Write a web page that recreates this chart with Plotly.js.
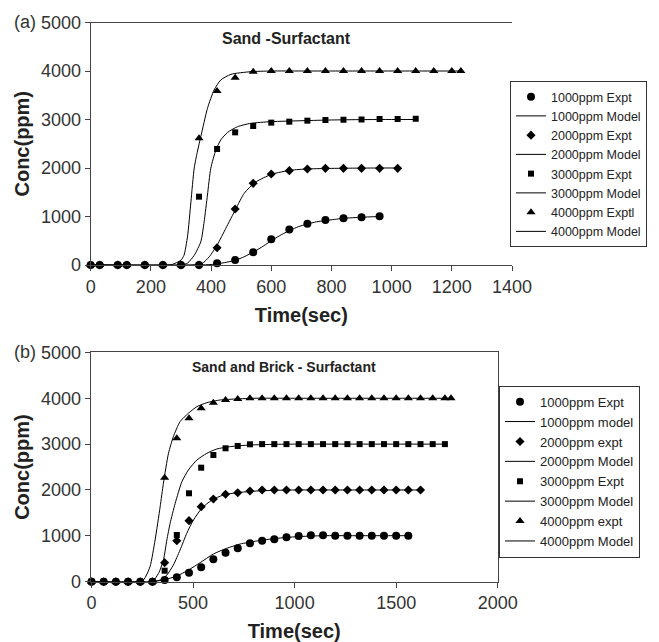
<!DOCTYPE html>
<html>
<head>
<meta charset="utf-8">
<script src="https://cdn.plot.ly/plotly-3.0.1.min.js"></script>
<style>html,body{margin:0;padding:0;background:#fff;}#chart{width:659px;height:642px;}</style>
</head>
<body>
<div id="chart"></div>
<script>
// ---------- (a) Sand - Surfactant ----------
const a1000Time = [0,30,90,120,180,240,300,360,420,480,540,600,660,720,780,840,900,960];
const a1000Expt = [0,0,0,0,0,0,0,0,35,103,262,529,730,850,928,962,983,1003];
const a1000ModelTime = [0,360,400,421,450,482,510,543,575,604,635,665,690,720,750,777,810,840,900,960];
const a1000Model = [0,0,10,25,55,100,170,275,395,515,630,722,790,845,890,914,940,962,985,1000];

const a2000Time = [0,30,90,120,180,240,300,360,420,480,540,600,660,720,780,840,900,960,1020];
const a2000Expt = [0,0,0,0,0,0,0,0,357,1155,1684,1876,1945,1979,1993,1993,1993,1993,1993];
const a2000ModelTime = [0,340,370,394,421,449,482,510,545,575,604,665,720,780,840,900,960,1020];
const a2000Model = [0,0,30,170,420,756,1155,1478,1697,1800,1876,1955,1980,1990,1995,1998,2000,2000];

const a3000Time = [0,30,90,120,180,240,300,360,420,480,540,600,660,720,780,840,900,960,1020,1080];
const a3000Expt = [0,0,0,0,0,0,0,1409,2392,2735,2866,2935,2955,2976,2990,2995,3000,3010,3010,3015];
const a3000ModelTime = [0,300,322,344,366,377,388,399,416,432,455,488,532,598,709,800,900,1000,1080];
const a3000Model = [0,0,40,200,481,893,1443,1994,2371,2577,2735,2852,2921,2955,2976,2990,2998,3000,3000];

const a4000Time = [0,30,90,120,180,240,300,360,420,480,540,600,660,720,780,840,900,960,1020,1080,1140,1200,1230];
const a4000Expt = [0,0,0,0,0,0,0,2612,3588,3862,3986,4000,4000,4000,4000,4000,4000,4000,4000,4000,4000,4000,4000];
const a4000ModelTime = [0,240,270,300,310,322,333,344,355,366,388,410,432,466,532,600,700,900,1100,1230];
const a4000Model = [0,0,10,100,200,600,1300,2000,2350,2650,3230,3608,3814,3931,3986,4000,4000,4000,4000,4000];

// ---------- (b) Sand and Brick - Surfactant ----------
const b1000Time = [0,60,120,180,240,300,360,420,480,540,600,660,720,780,840,900,960,1020,1080,1140,1200,1260,1320,1380,1440,1500,1560];
const b1000Expt = [0,0,0,0,0,0,37,95,196,314,488,633,728,837,894,924,968,997,1012,1015,1003,1003,1003,1003,1003,1003,1003];
const b1000ModelTime = [0,288,354,420,477,535,600,666,732,814,913,1012,1140,1300,1560];
const b1000Model = [0,0,37,124,254,415,604,728,822,888,946,982,1003,1003,1003];

const b2000Time = [0,60,120,180,240,300,360,420,480,540,600,660,720,780,840,900,960,1020,1080,1140,1200,1260,1320,1380,1440,1500,1560,1620];
const b2000Expt = [0,0,0,0,0,0,415,894,1331,1636,1804,1906,1941,1978,2000,2000,2000,2000,2000,2000,2000,2000,2000,2000,2000,2000,2000,2000];
const b2000ModelTime = [0,300,338,371,403,436,469,502,543,593,650,716,814,900,1000,1300,1620];
const b2000Model = [0,0,37,146,364,691,1055,1346,1600,1782,1891,1941,1978,1992,2000,2000,2000];

const b3000Time = [0,60,120,180,240,300,360,420,480,540,600,660,720,780,840,900,960,1020,1080,1140,1200,1260,1320,1380,1440,1500,1560,1620,1680,1740];
const b3000Expt = [0,0,0,0,0,0,240,1019,1928,2486,2763,2909,2960,2996,3000,3000,3000,3000,3000,3000,3000,3000,3000,3000,3000,3000,3000,3000,3000,3000];
const b3000ModelTime = [0,297,330,354,371,387,412,445,477,519,568,617,683,781,900,1000,1400,1740];
const b3000Model = [0,0,182,473,909,1273,1709,2181,2436,2654,2800,2894,2945,2981,2995,3000,3000,3000];

const b4000Time = [0,60,120,180,240,300,360,420,480,540,600,660,720,780,840,900,960,1020,1080,1140,1200,1260,1320,1380,1440,1500,1560,1620,1680,1740,1770];
const b4000Expt = [0,0,0,0,0,0,2268,3127,3564,3782,3904,3963,3985,4000,4000,4000,4000,4000,4000,4000,4000,4000,4000,4000,4000,4000,4000,4000,4000,4000,4000];
const b4000ModelTime = [0,200,255,288,313,338,354,379,403,436,477,519,568,634,716,800,1000,1400,1770];
const b4000Model = [0,0,37,327,909,1636,2146,2800,3163,3490,3673,3817,3904,3963,3985,4000,4000,4000,4000];

const aLabels = ['1000ppm Expt','1000ppm Model','2000ppm Expt','2000ppm Model','3000ppm Expt','3000ppm Model','4000ppm Exptl','4000ppm Model'];
const bLabels = ['1000ppm Expt','1000ppm model','2000ppm expt','2000ppm Model','3000ppm Expt','3000ppm Model','4000ppm expt','4000ppm Model'];

const W = 659, H = 642;
const px = v => v / W;
const py = v => 1 - v / H;

const symbols = ['circle','diamond','square','triangle-up'];
const sizes = [8,7,6,8];

function expt(x, y, name, i, xa, ya, lg) {
  return {x:x, y:y, name:name, type:'scatter', mode:'markers', xaxis:xa, yaxis:ya, legend:lg,
          cliponaxis:false, marker:{symbol:symbols[i], size:sizes[i], color:'#000'}};
}
function model(x, y, name, xa, ya, lg) {
  return {x:x, y:y, name:name, type:'scatter', mode:'lines', xaxis:xa, yaxis:ya, legend:lg,
          cliponaxis:false, line:{color:'#000', width:1, shape:'spline', smoothing:0.6}};
}

const data = [
  expt(a1000Time, a1000Expt, aLabels[0], 0, 'x', 'y', 'legend'),
  model(a1000ModelTime, a1000Model, aLabels[1], 'x', 'y', 'legend'),
  expt(a2000Time, a2000Expt, aLabels[2], 1, 'x', 'y', 'legend'),
  model(a2000ModelTime, a2000Model, aLabels[3], 'x', 'y', 'legend'),
  expt(a3000Time, a3000Expt, aLabels[4], 2, 'x', 'y', 'legend'),
  model(a3000ModelTime, a3000Model, aLabels[5], 'x', 'y', 'legend'),
  expt(a4000Time, a4000Expt, aLabels[6], 3, 'x', 'y', 'legend'),
  model(a4000ModelTime, a4000Model, aLabels[7], 'x', 'y', 'legend'),
  expt(b1000Time, b1000Expt, bLabels[0], 0, 'x2', 'y2', 'legend2'),
  model(b1000ModelTime, b1000Model, bLabels[1], 'x2', 'y2', 'legend2'),
  expt(b2000Time, b2000Expt, bLabels[2], 1, 'x2', 'y2', 'legend2'),
  model(b2000ModelTime, b2000Model, bLabels[3], 'x2', 'y2', 'legend2'),
  expt(b3000Time, b3000Expt, bLabels[4], 2, 'x2', 'y2', 'legend2'),
  model(b3000ModelTime, b3000Model, bLabels[5], 'x2', 'y2', 'legend2'),
  expt(b4000Time, b4000Expt, bLabels[6], 3, 'x2', 'y2', 'legend2'),
  model(b4000ModelTime, b4000Model, bLabels[7], 'x2', 'y2', 'legend2')
];

const FONT = 'Liberation Sans, Arial, Helvetica, sans-serif';
const tickFont = {family:FONT, size:18, color:'#333'};
const titleFont = {family:FONT, size:20, color:'#222', weight:'bold'};
const axCommon = {ticks:'outside', ticklen:5, tickwidth:1, tickcolor:'#444', showline:true, linecolor:'#444',
                  linewidth:1, showgrid:false, zeroline:false, tickfont:tickFont};

const layout = {
  width:W, height:H,
  margin:{l:0, r:0, t:0, b:0, autoexpand:false},
  paper_bgcolor:'#fff', plot_bgcolor:'#fff',
  font:{family:FONT, color:'#222'},
  showlegend:true,
  xaxis:Object.assign({}, axCommon, {domain:[px(90.7), px(512)], anchor:'y', range:[0,1400], tick0:0, dtick:200, mirror:true,
        title:{text:'Time(sec)', font:titleFont, standoff:12}}),
  yaxis:Object.assign({}, axCommon, {domain:[py(265), py(22.5)], anchor:'x', range:[0,5000], tick0:0, dtick:1000, mirror:false,
        title:{text:'Conc(ppm)', font:titleFont, standoff:6}}),
  xaxis2:Object.assign({}, axCommon, {domain:[px(90.7), px(497.7)], anchor:'y2', range:[-4,2000], tick0:0, dtick:500, mirror:true,
        title:{text:'Time(sec)', font:titleFont, standoff:12}}),
  yaxis2:Object.assign({}, axCommon, {domain:[py(581.7), py(352.4)], anchor:'x2', range:[0,5000], tick0:0, dtick:1000, mirror:true,
        title:{text:'Conc(ppm)', font:titleFont, standoff:6}}),
  legend:{x:px(510), y:py(81), xanchor:'left', yanchor:'top', bgcolor:'#fff', bordercolor:'#333', borderwidth:1,
          font:{family:FONT, size:12.5, color:'#222'}, tracegroupgap:0},
  legend2:{x:px(499), y:py(385.7), xanchor:'left', yanchor:'top', bgcolor:'#fff', bordercolor:'#333', borderwidth:1,
          font:{family:FONT, size:13, color:'#222'}, tracegroupgap:0},
  annotations:[
    {xref:'paper', yref:'paper', x:px(12), y:py(22.5), xanchor:'left', yanchor:'middle', showarrow:false,
     text:'(a)', font:{family:FONT, size:18, color:'#333'}},
    {xref:'paper', yref:'paper', x:px(12), y:py(352.4), xanchor:'left', yanchor:'middle', showarrow:false,
     text:'(b)', font:{family:FONT, size:18, color:'#333'}},
    {xref:'paper', yref:'paper', x:px(286), y:py(39), xanchor:'center', yanchor:'middle', showarrow:false,
     text:'Sand -Surfactant', font:{family:FONT, size:16, color:'#222', weight:'bold'}},
    {xref:'paper', yref:'paper', x:px(284), y:py(367), xanchor:'center', yanchor:'middle', showarrow:false,
     text:'Sand and Brick - Surfactant', font:{family:FONT, size:14, color:'#222', weight:'bold'}}
  ]
};

Plotly.newPlot('chart', data, layout, {staticPlot:true, displayModeBar:false});
</script>
</body>
</html>
